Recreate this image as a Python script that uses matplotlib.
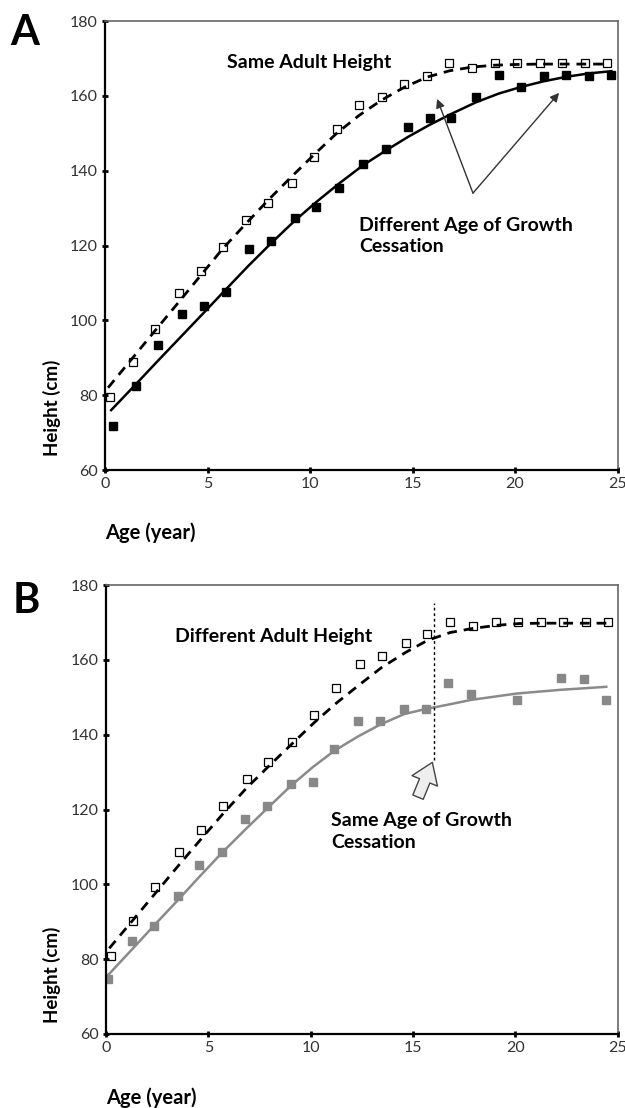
import numpy as np
import matplotlib
matplotlib.use('Agg')
import matplotlib.pyplot as plt

plt.rcParams['font.family'] = ['Lato', 'DejaVu Sans']

#
# Panel A data (same adult height)
#

age_a_open = [0.24, 1.37, 2.45, 3.6, 4.68, 5.75, 6.9, 7.97, 9.1, 10.2, 11.3, 12.4,
              13.5, 14.6, 15.7, 16.8, 17.9, 19.0, 20.1, 21.2, 22.3, 23.4, 24.5]
ht_a_open = [79.5, 88.9, 97.7, 107.3, 113.2, 119.6, 126.8, 131.4, 136.7, 143.7, 151.1, 157.6,
             159.7, 163.2, 165.3, 168.8, 167.4, 168.8, 168.8, 168.8, 168.8, 168.8, 168.8]

age_a_fill = [0.38, 1.5, 2.6, 3.75, 4.83, 5.9, 7.0, 8.1, 9.25, 10.3, 11.4, 12.6,
              13.7, 14.8, 15.85, 16.9, 18.1, 19.2, 20.3, 21.4, 22.5, 23.6, 24.7]
ht_a_fill = [71.8, 82.5, 93.4, 101.7, 103.8, 107.6, 119.1, 121.2, 127.4, 130.3, 135.4, 141.8,
             145.8, 151.7, 154.1, 154.1, 159.7, 165.6, 162.4, 165.3, 165.6, 165.3, 165.6]

fit_a_open_age = [0.15, 1.37, 2.45, 3.6, 4.68, 5.75, 6.9, 7.97, 9.1, 10.2, 11.3, 12.4,
                  13.5, 14.6, 15.7, 16.8, 17.9, 19.0, 20.1, 21.2, 22.3, 23.4, 24.5]
fit_a_open = [82.0, 90.1, 97.3, 104.9, 112.1, 119.2, 126.0, 132.2, 138.4, 144.3, 150.0, 154.8,
              158.9, 162.3, 165.0, 166.7, 167.7, 168.2, 168.4, 168.5, 168.5, 168.5, 168.5]

fit_a_fill_age = [0.3, 1.5, 2.6, 3.75, 4.83, 5.9, 7.0, 8.1, 9.25, 10.3, 11.4, 12.6,
                  13.7, 14.8, 15.85, 16.9, 18.1, 19.2, 20.3, 21.4, 22.5, 23.6, 24.7]
fit_a_fill = [76.0, 82.9, 89.3, 95.9, 102.1, 108.3, 114.6, 120.6, 126.6, 131.6, 136.5, 141.5,
              145.4, 149.1, 152.3, 155.2, 158.3, 160.6, 162.4, 163.9, 165.1, 166.0, 166.6]

#
# Panel B data (different adult height)
#

age_b_open = [0.24, 1.34, 2.41, 3.57, 4.63, 5.74, 6.88, 7.94, 9.1, 10.17, 11.25, 12.42,
              13.48, 14.65, 15.71, 16.82, 17.93, 19.06, 20.16, 21.26, 22.36, 23.47, 24.56]
ht_b_open = [80.9, 90.2, 99.4, 108.7, 114.5, 120.9, 128.2, 132.8, 138.1, 145.3, 152.4, 158.9,
             161.0, 164.6, 166.8, 170.0, 169.0, 170.0, 170.0, 170.0, 170.0, 170.0, 170.0]

age_b_gray = [0.11, 1.27, 2.35, 3.5, 4.56, 5.66, 6.8, 7.86, 9.03, 10.1, 11.16, 12.31,
              13.4, 14.57, 15.65, 16.7, 17.85, 20.08, 22.23, 23.36, 24.45]
ht_b_gray = [74.6, 84.9, 88.9, 97.0, 105.2, 108.6, 117.4, 120.9, 126.8, 127.4, 136.2, 143.7,
             143.7, 146.9, 146.9, 153.9, 150.8, 149.2, 155.2, 154.8, 149.3]

fit_b_open_age = [0.16, 1.34, 2.41, 3.57, 4.63, 5.74, 6.88, 7.94, 9.1, 10.17, 11.25, 12.42,
                  13.48, 14.65, 15.71, 16.82, 17.93, 19.06, 20.16, 21.26, 22.36, 23.47, 24.56]
fit_b_open = [82.9, 90.6, 97.6, 105.2, 112.0, 119.0, 125.8, 131.5, 137.6, 143.2, 148.4, 153.5,
              158.0, 162.0, 165.2, 167.3, 168.4, 169.2, 169.7, 169.8, 169.8, 169.8, 169.8]

fit_b_gray_age = [0.11, 1.27, 2.35, 3.5, 4.56, 5.66, 6.8, 7.86, 9.03, 10.1, 11.16, 12.31,
                  13.4, 14.57, 15.65, 16.7, 17.85, 20.08, 22.23, 23.36, 24.45]
fit_b_gray = [75.8, 82.6, 89.0, 95.7, 102.0, 108.4, 114.6, 120.2, 126.3, 131.3, 135.7, 139.5,
              142.7, 145.5, 146.9, 148.0, 149.3, 151.0, 152.0, 152.4, 152.8]

cessation_age = 16.05

xticks = [0, 5, 10, 15, 20, 25]
yticks = [60, 80, 100, 120, 140, 160, 180]


def style_axes(ax):
    ax.set_xlim(0, 25)
    ax.set_ylim(60, 180)
    ax.set_xticks(xticks)
    ax.set_yticks(yticks)
    ax.tick_params(direction='inout', length=4, width=2, labelsize=11.5,
                   labelcolor='#333333', pad=3)
    for side in ['left', 'bottom']:
        ax.spines[side].set_color('black')
        ax.spines[side].set_linewidth(1.6)
    for side in ['top', 'right']:
        ax.spines[side].set_color('#666666')
        ax.spines[side].set_linewidth(1.2)


fig = plt.figure(figsize=(6.25, 11.08), dpi=100)

#
# Panel A
#

ax0 = fig.add_axes([0.168, 0.5758, 0.82, 0.4052])
ax0.plot(fit_a_open_age, fit_a_open, color='black', linestyle=(0, (3.5, 2.5)), linewidth=2)
ax0.plot(fit_a_fill_age, fit_a_fill, color='black', linewidth=1.8)
ax0.plot(age_a_open, ht_a_open, linestyle='none', marker='s', markersize=6.2,
         markerfacecolor='none', markeredgecolor='black', markeredgewidth=0.9)
ax0.plot(age_a_fill, ht_a_fill, linestyle='none', marker='s', markersize=6.2,
         markerfacecolor='black', markeredgecolor='black')
style_axes(ax0)

ax0.text(5.95, 169, 'Same Adult Height', fontsize=14, fontweight='bold', va='center')
ax0.text(12.4, 122.5, 'Different Age of Growth\nCessation', fontsize=14,
         fontweight='bold', va='center', linespacing=1.3)
for head in [(16.2, 159.2), (22.15, 160.8)]:
    ax0.annotate('', xy=head, xytext=(17.95, 134.0),
                 arrowprops=dict(arrowstyle='-|>', color='#333333', lw=1.0,
                                 mutation_scale=13, shrinkA=0, shrinkB=0))

#
# Panel B
#

ax1 = fig.add_axes([0.1696, 0.0668, 0.8184, 0.4052])
ax1.plot(fit_b_open_age, fit_b_open, color='black', linestyle=(0, (3.5, 2.5)), linewidth=2)
ax1.plot(fit_b_gray_age, fit_b_gray, color='#8a8a8a', linewidth=1.8)
ax1.plot(age_b_open, ht_b_open, linestyle='none', marker='s', markersize=6.2,
         markerfacecolor='none', markeredgecolor='black', markeredgewidth=0.9)
ax1.plot(age_b_gray, ht_b_gray, linestyle='none', marker='s', markersize=6.2,
         markerfacecolor='#888888', markeredgecolor='#888888')
ax1.plot([cessation_age, cessation_age], [133.2, 175.1], color='black',
         linestyle=(0, (2, 2)), linewidth=1.0)
style_axes(ax1)

ax1.text(3.37, 166.2, 'Different Adult Height', fontsize=14, fontweight='bold', va='center')
ax1.text(11.0, 114.1, 'Same Age of Growth\nCessation', fontsize=14,
         fontweight='bold', va='center', linespacing=1.3)
ax1.annotate('', xy=(15.95, 132.6), xytext=(15.25, 123.3),
             arrowprops=dict(arrowstyle='simple,head_length=0.8,head_width=1.1,tail_width=0.45',
                             fc='#eeeeee', ec='#444444', lw=1.0,
                             mutation_scale=18, shrinkA=0, shrinkB=0))

#
# Figure labels
#

fig.text(0.016, 0.970, 'A', fontsize=30, fontweight='bold', va='center')
fig.text(0.020, 0.458, 'B', fontsize=30, fontweight='bold', va='center')

fig.text(0.083, 1 - 408 / 1108, 'Height (cm)', fontsize=13.5, fontweight='bold',
         rotation=90, va='center', ha='center')
fig.text(0.083, 1 - 975 / 1108, 'Height (cm)', fontsize=13.5, fontweight='bold',
         rotation=90, va='center', ha='center')
fig.text(105 / 625, 1 - 533 / 1108, 'Age (year)', fontsize=14.5, fontweight='bold', va='center')
fig.text(106 / 625, 1 - 1098 / 1108, 'Age (year)', fontsize=14.5, fontweight='bold', va='center')

fig.savefig('out.png', dpi=100)
